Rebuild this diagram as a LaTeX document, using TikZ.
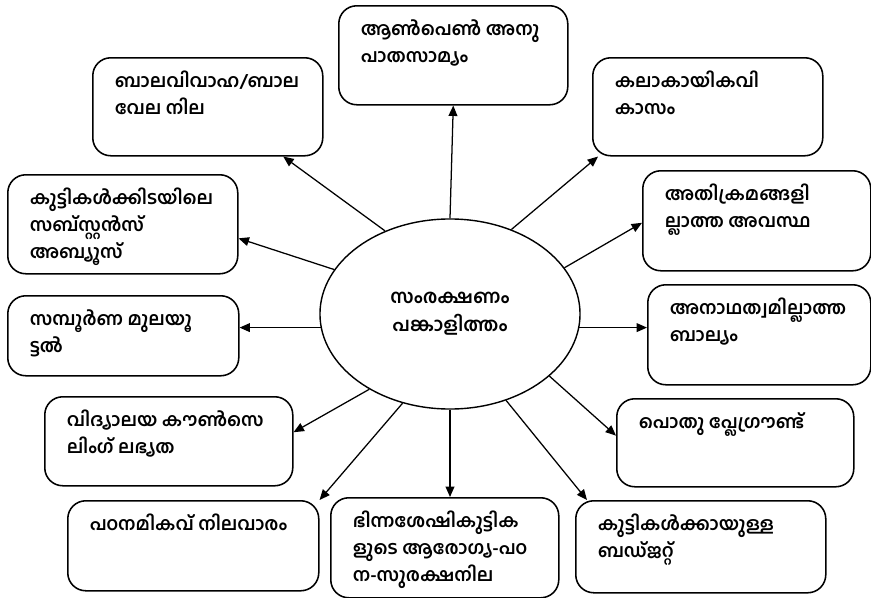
\documentclass[tikz,border=0pt]{standalone}
\usepackage{fontspec}
\setmainfont[Script=Malayalam]{Hind Kochi}
\usetikzlibrary{arrows.meta,positioning,calc,shapes.geometric}
\newdimen\pxu
\pxu=0.025cm
\tikzset{
  card/.style ={draw,line width=1.1pt,rounded corners=4.5mm,anchor=north west,
                inner xsep=0.55cm,inner ysep=0.25cm},
  hub/.style  ={ellipse,draw,line width=1pt,minimum width=6.5cm,minimum height=4.75cm,
                inner sep=0pt,align=center,font=\bfseries\fontsize{13.5}{20}\selectfont},
  link/.style ={-{Triangle[length=2.6mm,width=2.2mm]},line width=0.9pt},
  mal/.style  ={font=\bfseries\fontsize{13}{19}\selectfont},
}
% box text: width (px), height (px), lines
\newcommand{\crd}[3]{\parbox[c][\dimexpr#2\pxu-0.5cm\relax][t]{\dimexpr#1\pxu-1.1cm\relax}%
  {\vspace*{1pt}\begin{tabular}{@{}l@{}}#3\end{tabular}}}

\begin{document}
\begin{tikzpicture}[x=0.025cm,y=-0.025cm,mal]
  \useasboundingbox (0,0) rectangle (871,598);
  % centre
  \node[hub] (hub) at (450,314) {സംരക്ഷണം\\പങ്കാളിത്തം};
  % boxes
  \node[card] (gen) at (338,5)   {\crd{229}{99}{ആൺപെൺ അനു\\പാതസാമ്യം}};
  \node[card] (mar) at (92,57)   {\crd{230}{98}{ബാലവിവാഹ/ബാല\\വേല നില}};
  \node[card] (art) at (592,57)  {\crd{230}{98}{കലാകായികവി\\കാസം}};
  \node[card] (sub) at (7,174)   {\crd{230}{99}{കുട്ടികൾക്കിടയിലെ\\സബ്സ്റ്റൻസ്\\അബ്യൂസ്}};
  \node[card] (vio) at (642,170) {\crd{228}{100}{അതിക്രമങ്ങളി\\ല്ലാത്ത അവസ്ഥ}};
  \node[card] (brf) at (7,295)   {\crd{231}{80}{സമ്പൂർണ മുലയൂ\\ട്ടൽ}};
  \node[card] (orp) at (647,284) {\crd{223}{100}{അനാഥത്വമില്ലാത്ത\\ബാല്യം}};
  \node[card] (cou) at (44,396)  {\crd{248}{89}{വിദ്യാലയ കൗൺസെ\\ലിംഗ് ലഭ്യത}};
  \node[card] (ply) at (616,398) {\crd{237}{88}{പൊതു പ്ലേഗ്രൗണ്ട്}};
  \node[card] (lrn) at (67,500)  {\crd{251}{90}{പഠനമികവ് നിലവാരം}};
  \node[card] (dis) at (330,497) {\crd{228}{100}{ഭിന്നശേഷികുട്ടിക\\ളുടെ ആരോഗ്യ-പഠ\\ന-സുരക്ഷനില}};
  \node[card] (bud) at (575,500) {\crd{250}{92}{കുട്ടികൾക്കായുള്ള\\ബഡ്ജറ്റ്}};
  % arrows
  \draw[link] (hub.north) -- (gen.south);
  \draw[link] (hub.128) -- ($(mar.south west)!0.826!(mar.south east)$);
  \draw[link] (hub.54) -- ($(art.south west)+(6,0)$);
  \draw[link] (hub.159) -- ($(sub.north east)!0.64!(sub.south east)$);
  \draw[link] (hub.22) -- ($(vio.north west)!0.52!(vio.south west)$);
  \draw[link] (hub.186) -- (hub.186 -| brf.east);
  \draw[link] (hub.-6) -- (hub.-6 -| orp.west);
  \draw[link] (hub.-32) -- ($(ply.north west)!0.42!(ply.south west)$);
  \draw[link] (hub.223) -- ($(cou.north east)!0.40!(cou.south east)$);
  \draw[link] (hub.242) -- (lrn.north east);
  \draw[link] (hub.south) -- (hub.south |- dis.north);
  \draw[link] (hub.303) -- ($(bud.north west)+(12,0)$);
\end{tikzpicture}
\end{document}
